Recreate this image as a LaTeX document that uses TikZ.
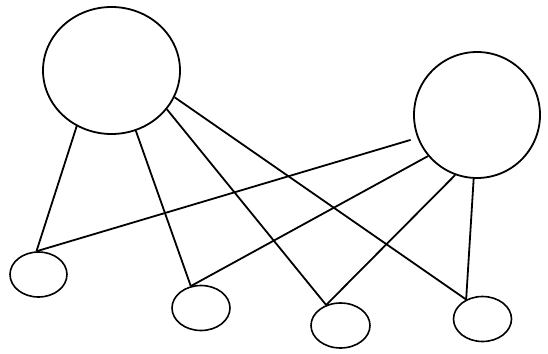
\documentclass[tikz,border=0pt]{standalone}
\usepackage{tikz}
\usetikzlibrary{shapes.geometric}

\begin{document}
\begin{tikzpicture}[
  x=1pt,y=-1pt,
  big/.style={draw,ellipse,line width=1.8pt,inner sep=0pt},
  small/.style={draw,ellipse,line width=1.6pt,inner sep=0pt,minimum width=58pt,minimum height=45pt},
  edge/.style={line width=1.8pt}
]
\useasboundingbox (0,0) rectangle (548,353);
\node[big,minimum width=137pt,minimum height=127pt] (hubA) at (111.5,70.5) {};
\node[big,minimum width=126pt,minimum height=126pt] (hubB) at (477,115) {};
\node[small,minimum width=57pt] (leaf1) at (38.5,274.5) {};
\node[small] (leaf2) at (201,308) {};
\node[small,minimum width=59pt] (leaf3) at (340.5,325.5) {};
\node[small] (leaf4) at (482.5,319) {};
% left hub
\draw[edge] (hubA.238) -- (leaf1.95);
\draw[edge] (hubA.292) -- (leaf2.115);
\draw[edge] (hubA.325) -- (leaf3.125);
\draw[edge] (hubA.337) -- (leaf4.130);
% right hub
\draw[edge,shorten <=7pt] (hubB.201) -- (leaf1.95);
\draw[edge] (hubB.220) -- (leaf2.115);
\draw[edge] (hubB.250) -- (leaf3.125);
\draw[edge] (hubB.267) -- (leaf4.130);
\end{tikzpicture}
\end{document}
